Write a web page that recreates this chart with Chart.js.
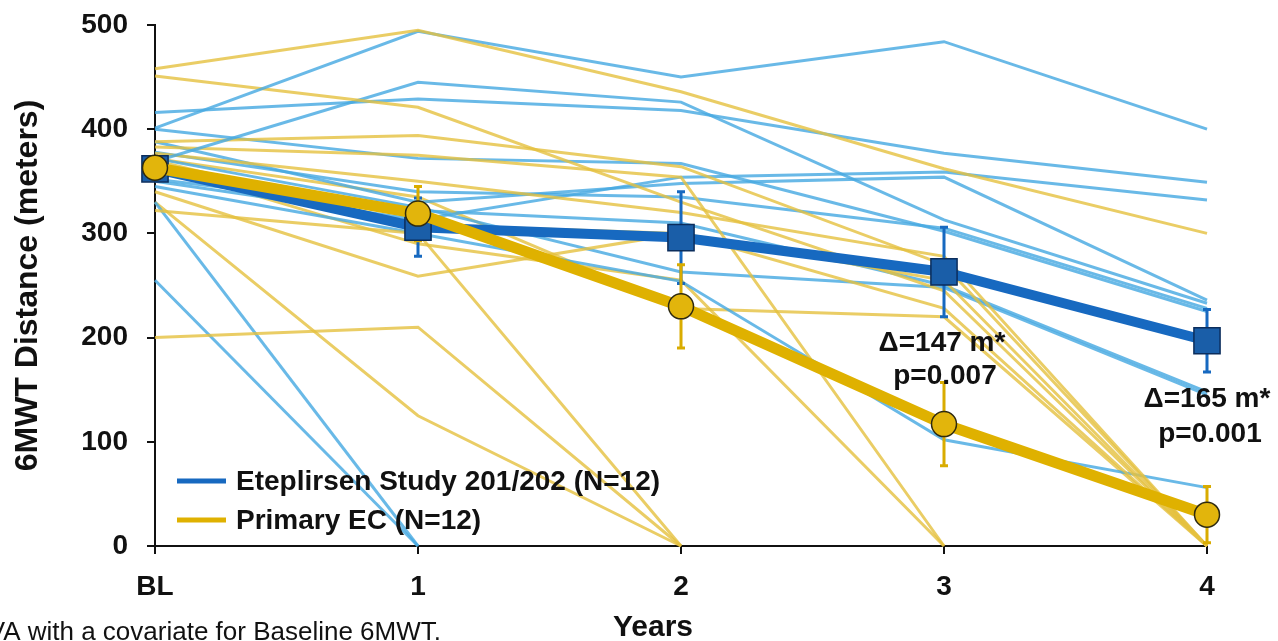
<!DOCTYPE html>
<html>
<head>
<meta charset="utf-8">
<script src="https://cdn.jsdelivr.net/npm/chart.js@4.4.0/dist/chart.umd.min.js"></script>
<style>
  html, body { margin: 0; padding: 0; background: #fff; }
  #wrap { width: 1278px; height: 641px; position: relative; overflow: hidden; }
</style>
</head>
<body>
<div id="wrap"><canvas id="c" width="1278" height="641"></canvas></div>
<script>
// Visit labels on the x axis (0 = baseline)
const xLabels = ['BL', '1', '2', '3', '4'];

// Group means (meters) with error bar half-widths
const eteplirsenMean = [362, 306, 296, 263, 197];
const eteplirsenErr  = [0, 28, 44, 43, 30];
const ecMean = [363, 319, 230, 117, 30];
const ecErr  = [0, 26, 40, 40, 27];

// Individual patient trajectories, Eteplirsen Study 201/202
const etePt01 = [401, 494, 450, 484, 400];
const etePt02 = [369, 445, 426, 313, 233];
const etePt03 = [416, 429, 418, 377, 349];
const etePt04 = [400, 372, 367, 302, 225];
const etePt05 = [350, 313, 354, 359, 332];
const etePt06 = [388, 330, 348, 354, 236];
const etePt07 = [372, 325, 263, 248, 145];
const etePt08 = [345, 300, 254, 102, 56];
const etePt09 = [330, 0, null, null, null];
const etePt10 = [255, 0, null, null, null];
const etePt11 = [378, 340, 335, 305, 228];
const etePt12 = [352, 322, 310, 250, 148];

// Individual patient trajectories, primary external control
const ecPt01 = [458, 495, 436, 362, 300];
const ecPt02 = [451, 421, 330, 245, 0];
const ecPt03 = [388, 394, 364, 270, 0];
const ecPt04 = [383, 375, 354, 0, null];
const ecPt05 = [377, 350, 320, 278, 0];
const ecPt06 = [370, 308, 300, 255, 0];
const ecPt07 = [340, 259, 300, 228, 0];
const ecPt08 = [322, 300, 0, null, null];
const ecPt09 = [200, 210, 0, null, null];
const ecPt10 = [330, 125, 0, null, null];
const ecPt11 = [372, 335, 228, 220, 0];
const ecPt12 = [365, 290, 255, 0, null];

const etePatients = [etePt01, etePt02, etePt03, etePt04, etePt05, etePt06,
                     etePt07, etePt08, etePt09, etePt10, etePt11, etePt12];
const ecPatients = [ecPt01, ecPt02, ecPt03, ecPt04, ecPt05, ecPt06,
                    ecPt07, ecPt08, ecPt09, ecPt10, ecPt11, ecPt12];

const legendLabels = ['Eteplirsen Study 201/202 (N=12)', 'Primary EC (N=12)'];
const deltaLabels = [
  { visit: 3, lines: ['\u0394=147 m*', 'p=0.007'] },
  { visit: 4, lines: ['\u0394=165 m*', 'p=0.001'] }
];
const xTitle = 'Years';
const footnote = '*ANCOVA with a covariate for Baseline 6MWT.';

const FONT = '"Liberation Sans", Arial, sans-serif';
const BLUE_THIN = 'rgba(72,170,226,0.82)';
const GOLD_THIN = 'rgba(229,192,62,0.80)';
const BLUE = '#1769c0';
const GOLD = '#dfb100';

const toPoints = arr => arr.map((v, i) => ({ x: i, y: v }));

const datasets = [];
// Means first so they are drawn on top (Chart.js paints index 0 last)
datasets.push({
  label: 'Primary EC mean', data: toPoints(ecMean), clip: false,
  borderColor: GOLD, borderWidth: 11, backgroundColor: '#e2b50c',
  pointStyle: 'circle', pointRadius: 12.5, pointBorderColor: '#2e2a10', pointBorderWidth: 1.5,
  tension: 0
});
datasets.push({
  label: 'Eteplirsen mean', data: toPoints(eteplirsenMean), clip: false,
  borderColor: BLUE, borderWidth: 10, backgroundColor: '#1a5ea8',
  pointStyle: 'rect', pointRadius: 18.5, pointBorderColor: '#0b2d5c', pointBorderWidth: 1.5,
  tension: 0
});
// Interleave individual lines so neither colour sits fully on top
for (let i = 0; i < 12; i++) {
  datasets.push({ label: 'EC ' + (i + 1), data: toPoints(ecPatients[i]), clip: false,
    borderColor: GOLD_THIN, borderWidth: 3, pointRadius: 0, spanGaps: false, tension: 0 });
  datasets.push({ label: 'Ete ' + (i + 1), data: toPoints(etePatients[i]), clip: false,
    borderColor: BLUE_THIN, borderWidth: 3, pointRadius: 0, spanGaps: false, tension: 0 });
}

// Error bars, painted just before the mean series
const errorBarPlugin = {
  id: 'errorBars',
  beforeDatasetDraw(chart, args) {
    if (args.index !== 1) return;
    const { ctx, scales: { x, y } } = chart;
    const groups = [
      { mean: eteplirsenMean, err: eteplirsenErr, color: BLUE },
      { mean: ecMean, err: ecErr, color: '#d9ac00' }
    ];
    ctx.save();
    groups.forEach(g => {
      g.mean.forEach((m, i) => {
        const e = g.err[i];
        if (!e) return;
        const px = x.getPixelForValue(i);
        const top = y.getPixelForValue(m + e);
        const bot = y.getPixelForValue(Math.max(0, m - e));
        ctx.strokeStyle = g.color;
        ctx.lineWidth = 3;
        ctx.beginPath();
        ctx.moveTo(px, top); ctx.lineTo(px, bot);
        ctx.moveTo(px - 4, top); ctx.lineTo(px + 4, top);
        ctx.moveTo(px - 4, bot); ctx.lineTo(px + 4, bot);
        ctx.stroke();
      });
    });
    ctx.restore();
  }
};

// Legend, group-difference labels, x title and footnote
const textPlugin = {
  id: 'chartText',
  afterDraw(chart) {
    const { ctx, scales: { x } } = chart;
    ctx.save();
    // legend
    const legendColors = [BLUE, GOLD];
    const legendY = [481, 520];
    ctx.font = 'bold 28px ' + FONT;
    ctx.textBaseline = 'middle';
    ctx.textAlign = 'left';
    legendLabels.forEach((t, i) => {
      ctx.strokeStyle = legendColors[i];
      ctx.lineWidth = 5;
      ctx.beginPath();
      ctx.moveTo(177, legendY[i]); ctx.lineTo(226, legendY[i]);
      ctx.stroke();
      ctx.fillStyle = '#111';
      ctx.fillText(t, 236, legendY[i] + 1);
    });
    // delta / p-value labels
    ctx.textAlign = 'center';
    ctx.textBaseline = 'alphabetic';
    const labelPos = { 3: [351, 384], 4: [407, 442] };
    deltaLabels.forEach(d => {
      const px = x.getPixelForValue(d.visit) - (d.visit === 3 ? 2 : 0);
      ctx.fillText(d.lines[0], px, labelPos[d.visit][0]);
      ctx.fillText(d.lines[1], px + 3, labelPos[d.visit][1]);
    });
    // x axis title
    ctx.font = 'bold 30px ' + FONT;
    ctx.fillText(xTitle, 653, 636);
    // footnote
    ctx.font = '26px ' + FONT;
    ctx.textAlign = 'right';
    ctx.fillText(footnote, 441, 640);
    ctx.restore();
  }
};

Chart.defaults.font.family = FONT;
Chart.defaults.color = '#111';

new Chart(document.getElementById('c'), {
  type: 'line',
  data: { datasets },
  options: {
    responsive: false,
    animation: false,
    devicePixelRatio: 1,
    layout: { padding: { left: 0, top: 25, right: 71, bottom: 0 } },
    plugins: { legend: { display: false }, tooltip: { enabled: false } },
    scales: {
      x: {
        type: 'linear', min: 0, max: 4,
        afterFit(s) { s.height = 95; },
        ticks: {
          stepSize: 1, padding: 16,
          font: { size: 28, weight: 'bold' }, color: '#111',
          callback: v => xLabels[v]
        },
        grid: { drawOnChartArea: false, drawTicks: true, tickLength: 8, color: '#111', lineWidth: 2 },
        border: { display: true, color: '#111', width: 2 },
        title: { display: false }
      },
      y: {
        min: 0, max: 500,
        afterFit(s) { s.width = 155; s.paddingTop = 0; s.paddingBottom = 0; },
        ticks: { stepSize: 100, padding: 19, font: { size: 28, weight: 'bold' }, color: '#111' },
        grid: { drawOnChartArea: false, drawTicks: true, tickLength: 8, color: '#111', lineWidth: 2 },
        border: { display: true, color: '#111', width: 2 },
        title: { display: true, text: '6MWT Distance (meters)', font: { size: 32, weight: 'bold', lineHeight: 1 },
                 color: '#111', padding: { top: 12, bottom: 0 } }
      }
    }
  },
  plugins: [errorBarPlugin, textPlugin]
});
</script>
</body>
</html>
